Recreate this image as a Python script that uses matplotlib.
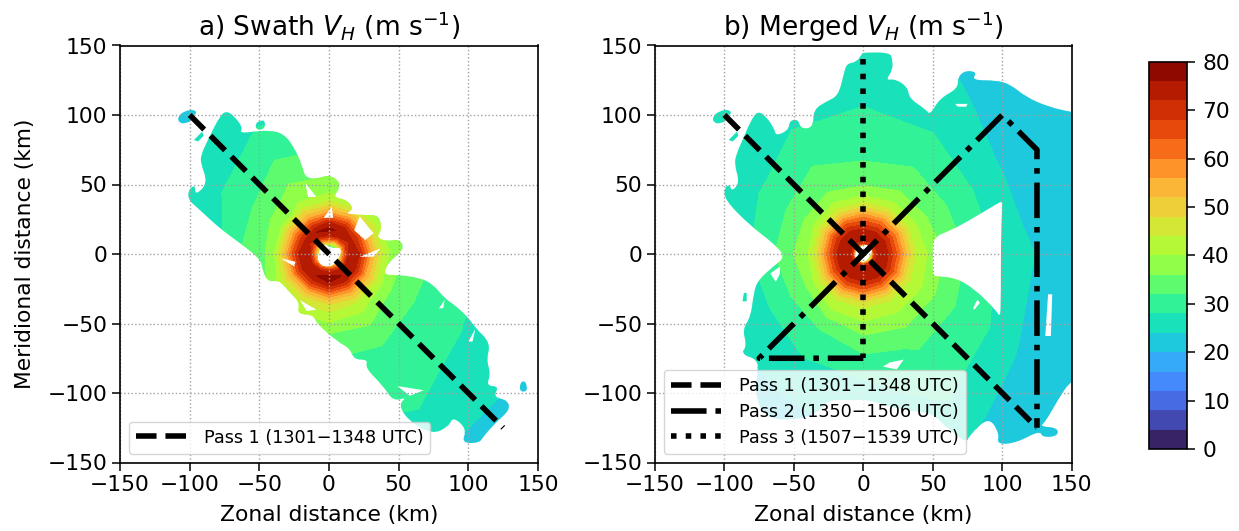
import numpy as np
import matplotlib
matplotlib.use("Agg")
import matplotlib.pyplot as plt
from matplotlib.path import Path

# ---------- data ----------
levels = np.arange(0, 81, 4)
cbar_ticks = np.arange(0, 81, 10)
ticks = [-150, -100, -50, 0, 50, 100, 150]
radius_km = [5, 8, 11, 14, 18, 22, 26, 30, 35, 40, 46, 54, 64, 76, 90, 105, 120, 135, 150, 165, 185, 215]
azimuth_deg = [0, 30, 60, 90, 120, 150, 180, 210, 240, 270, 300, 330, 360]

# wind speed, rows = azimuth, columns = radius
va_0 = [30, 48, 62, 72, 74, 72, 64, 56, 48, 42, 38.5, 36, 34, 32, 30, 28.5, 27, 26, 25, 24, 22, 20]
va_30 = [30, 46, 60, 70, 73, 70, 63, 55, 47, 42, 38, 35, 33, 31, 29, 27.5, 26, 25, 24, 23, 21.5, 20]
va_60 = [30, 46, 62, 72, 75, 72, 64, 56, 47, 42, 39, 36.5, 34, 32, 30, 28, 26.5, 25, 24, 23, 21.5, 20]
va_90 = [30, 48, 64, 74, 77, 74, 65, 56, 48, 42, 39, 36.5, 34, 32, 30, 28, 26.5, 25, 24, 23, 21.5, 20]
va_120 = [30, 48, 62, 72, 76, 71, 63, 55, 48, 41, 39, 37, 34.5, 32.3, 30, 28, 26.5, 24.5, 23, 22.5, 21, 20]
va_150 = [30, 46, 60, 70, 74, 70, 63, 55, 47, 39, 37, 34, 32, 30, 27.8, 26, 25.5, 24.5, 23, 22.5, 21, 20]
va_180 = [30, 48, 62, 73, 76, 72, 65, 56, 47, 39, 36, 34, 32, 28, 26.5, 26, 25, 24, 23, 22.5, 21, 20]
va_210 = [30, 46, 62, 72, 74, 72, 65, 56, 48, 42, 38, 35, 33, 31, 28.5, 26.5, 25, 24, 23, 22.5, 21, 20]
va_240 = [30, 48, 64, 74, 76, 72, 65, 56, 48, 44, 41, 37, 35, 33, 31, 29, 27.5, 26, 25, 24, 22, 21]
va_270 = [30, 48, 66, 75, 78, 75, 67, 58, 49, 45, 42, 37, 34, 32, 31, 30, 28.5, 27, 25.5, 24, 22, 21]
va_300 = [30, 48, 64, 74, 76, 74, 66, 58, 50, 44, 41, 37.5, 34.5, 32, 31, 30, 28.7, 27.5, 25.5, 24, 22, 20]
va_330 = [30, 48, 62, 72, 74, 72, 65, 56, 49, 43, 38, 35, 33, 31, 30, 28.5, 27, 26, 25, 24, 22, 20]
field_a = [va_0, va_30, va_60, va_90, va_120, va_150, va_180, va_210, va_240, va_270, va_300, va_330, va_0]

vb_0 = [38, 68, 74, 74, 72, 67, 61, 54, 47, 42, 40, 37.3, 34.3, 31.5, 28.7, 26.7, 24.3, 23, 22.5, 21.5, 21, 20]
vb_30 = [38, 68, 74, 74, 72, 67, 61, 54, 47, 41.5, 39, 35.5, 33, 30.7, 28.2, 25.5, 23.5, 22.8, 22, 21.5, 21, 20]
vb_60 = [38, 68, 74, 74, 72, 67, 61, 54, 47, 41.5, 38.5, 35.3, 33.2, 31.4, 29.2, 27.5, 26, 24.4, 23.5, 22.5, 21.5, 21]
vb_90 = [38, 68, 74, 75, 72, 67, 61, 54, 46, 41.5, 37, 34.5, 32.5, 30.5, 29.5, 28.1, 27, 26.5, 26, 25.5, 25, 24.5]
vb_120 = [38, 68, 75, 76, 73, 68, 62, 54, 46, 41.5, 38, 35, 33.5, 31.5, 29.5, 27.8, 26.7, 26, 25.5, 25, 24.5, 24]
vb_150 = [38, 68, 75, 76, 73, 68, 62, 54, 46, 40.8, 37, 34.5, 32, 29.7, 27.5, 26.5, 25.5, 24.7, 23.7, 23, 22.5, 22]
vb_180 = [38, 70, 75, 76, 74, 68, 61, 53, 45, 40, 37.5, 34.8, 32, 28.8, 26.8, 26, 25, 23.8, 23, 22.5, 22, 21]
vb_210 = [38, 70, 75, 76, 74, 68, 62, 54, 46, 41, 36.5, 33.8, 31, 28.3, 26, 24.6, 23.5, 23, 22.5, 22, 21.5, 21]
vb_240 = [38, 70, 75, 76, 74, 69, 63, 55, 47, 42, 40, 35.2, 31.6, 29.6, 27.4, 25.3, 23.7, 23, 22.5, 22, 21.5, 21]
vb_270 = [38, 70, 76, 76, 74, 69, 63, 55, 47, 43, 41, 37.5, 34, 31, 28, 26.8, 25.5, 24.3, 23.5, 23, 22, 21]
vb_300 = [38, 70, 75, 76, 74, 69, 62, 55, 47, 43, 41, 38, 35, 32.3, 31, 29.5, 28.3, 26.5, 24.3, 23, 21.5, 20]
vb_330 = [38, 68, 74, 75, 73, 68, 62, 55, 47, 43, 41, 37.5, 34.7, 32, 29.5, 28, 24.8, 23.5, 23, 22.5, 20.8, 20]
field_b = [vb_0, vb_30, vb_60, vb_90, vb_120, vb_150, vb_180, vb_210, vb_240, vb_270, vb_300, vb_330, vb_0]

# data coverage outlines (km)
cover_a = [(-92,71),(-87,82),(-78,100),(-73,103),(-67,98),(-62,91),(-64,87),(-54,88),(-44,89),(-33,87),
           (-25,77),(-19,63),(-17,55),(-9,54),(0,57),(8,52),(7,46),(3,41),(13,39),(18,32),(11,29),(26,28),
           (36,28),(38,17),(34,12),(42,9),(50,11),(54,5),(49,-1),(42,-7),(39,-15),(49,-15),(65,-17),(75,-22),
           (83,-32),(92,-38),(101,-47),(105,-53),(116,-64),(113,-76),(116,-86),(113,-95),(122,-95),(118,-103),
           (128,-105),(130,-112),(120,-121),(111,-131),(108,-136),(95,-136),(99,-126),(89,-117),(86,-124),
           (74,-130),(56,-119),(50,-108),(56,-103),(46,-106),(39,-95),(26,-82),(28,-76),(18,-76),(15,-68),
           (6,-63),(-9,-50),(-11,-44),(-23,-43),(-21,-35),(-28,-28),(-33,-22),(-37,-19),(-44,-20),(-48,-11),
           (-49,-4),(-64,8),(-78,18),(-93,32),(-101,39),(-101,46),(-96,50),(-96,42),(-87,51),(-92,65)]
blobs_a = [[(-109,98),(-104,103),(-96,104),(-95,100),(-101,100),(-98,96),(-103,94),(-107,94)],
           [(-97,82),(-91,88),(-90,85),(-94,81)],
           [(-53,94),(-49,96),(-46,96),(-46,90),(-52,89)],
           [(137,-93),(140,-91),(142,-94),(142,-99),(137,-99)]]
holes_a = [[(-9,-2),(-4,8),(2,4),(9,5),(8,-2),(3,-9),(-6,-9)],
           [(-17,51),(-9,41),(-15,41)],
           [(-4,26),(2,34),(3,26)],
           [(18,17),(22,27),(32,15),(26,10)],
           [(22,-2),(37,4),(32,-2)],
           [(-35,-3),(-24,-5.5),(-25,-9)],
           [(-21,-33),(-9,-40),(-16,-41)],
           [(49,-95),(68,-98),(58,-102)],
           [(79,-39),(83,-33),(82,-39)],
           [(100,-63),(105,-54),(103,-63)]]

cover_b = [(-100,39),(-100,48),(-96,50),(-95,45),(-89,51),(-93,65),(-91,73),(-87,82),(-81,96),(-76,103),
           (-70,99),(-64,90),(-63,85),(-54,89),(-53,96),(-47,97),(-45,90),(-36,91),(-36,104),(-26,110),
           (-18,114),(-14,130),(-12,137),(-5,138),(-1,144),(0,145),(19,145),(21,140),(21,132),(16,125),(23,126),(32,120),
           (33,112),(45,104),(48,100),(55,112),(68,119),(68,127),(73,132),(82,131),(78,125),(96,125),
           (106,122),(117,113),(133,106),(150,102),(165,100),(165,-88),(150,-90),(140,-105),(131,-121),(127,-124),
           (140,-125),(140,-131),(129,-132),(127,-127),(110,-136),(96,-137),(98,-129),(90,-117),(76,-131),
           (74,-136),(59,-124),(49,-114),(25,-112),(5,-105),(-10,-105),(-25,-105),(-30,-112),(-44,-119),
           (-71,-119),(-78,-100),(-76,-86),(-76,-76),(-88,-72),(-84,-66),(-87,-54),(-81,-45),(-79,-28),
           (-76,-19),(-65,-9),(-56,-2),(-65,8),(-81,20)]
blobs_b = [[(-109,98),(-104,103),(-96,104),(-95,100),(-101,100),(-98,96),(-103,94),(-107,94)],
           [(-97,82),(-91,88),(-90,85),(-94,81)],
           [(-86,-28),(-84,-28),(-84,-34),(-87,-34)]]
holes_b = [[(-7,0),(0,8),(7,4),(5,-2),(0,-7),(-6,-3)],
           [(50,12),(63,17),(76,24),(96,36),(100,38),(100,34),(99,10),(99,-40),(98,-45),(96,-41),(80,-25),(66,-17),(52,-16),(50,-15),(50,-2)],
           [(-67,-14),(-60,-9),(-60,-14),(-63,-20)],
           [(133,-29),(136,-29),(135,-59),(131,-59)],
           [(66,108),(75,108),(74,106),(68,106)],
           [(79,-39),(82,-33),(84,-35),(80,-40)],
           [(19,-78),(29,-76),(24,-83),(14,-81)]]

# flight tracks (km)
pass1_x = [-100, 125]
pass1_y = [100, -125]
pass2_x = [0, -75, 100, 125, 125]
pass2_y = [-75, -75, 100, 75, -125]
pass3_x = [0, 0]
pass3_y = [140, -75]

pass1_label = "Pass 1 (1301\u22121348 UTC)"
pass2_label = "Pass 2 (1350\u22121506 UTC)"
pass3_label = "Pass 3 (1507\u22121539 UTC)"
title_a = r"a) Swath $V_H$ (m s$^{-1}$)"
title_b = r"b) Merged $V_H$ (m s$^{-1}$)"
xlabel = "Zonal distance (km)"
ylabel = "Meridional distance (km)"

# ---------- drawing ----------
W, H = 1239, 531
plt.rcParams.update({"font.family": "DejaVu Sans", "axes.linewidth": 1.2,
                     "xtick.major.width": 1.1, "ytick.major.width": 1.1,
                     "xtick.major.size": 6, "ytick.major.size": 6})
fig = plt.figure(figsize=(W / 100, H / 100), dpi=100)


def add_axes(x0, x1, y_top, y_bot):
    return fig.add_axes([x0 / W, 1 - y_bot / H, (x1 - x0) / W, (y_bot - y_top) / H])


def signed_area(pts):
    p = np.array(pts, float)
    return 0.5 * np.sum(p[:, 0] * np.roll(p[:, 1], -1) - np.roll(p[:, 0], -1) * p[:, 1])


def ring_path(ring):
    """Rounded outline: vertices act as control points, edge midpoints as anchors."""
    n = len(ring)
    if n < 5:
        return list(ring) + [ring[0]], [Path.MOVETO] + [Path.LINETO] * (n - 1) + [Path.CLOSEPOLY]
    p = np.array(ring, float)
    mid = 0.5 * (p + np.roll(p, -1, axis=0))
    verts, codes = [tuple(mid[-1])], [Path.MOVETO]
    for i in range(n):
        verts += [tuple(p[i]), tuple(mid[i])]
        codes += [Path.CURVE3, Path.CURVE3]
    verts.append(tuple(mid[-1]))
    codes.append(Path.CLOSEPOLY)
    return verts, codes


def coverage_path(outer, blobs, holes):
    verts, codes = [], []
    rings = [(r, True) for r in [outer] + blobs] + [(r, False) for r in holes]
    for ring, ccw in rings:
        ring = list(ring)
        if (signed_area(ring) > 0) != ccw:
            ring = ring[::-1]
        v, c = ring_path(ring)
        verts += v
        codes += c
    return Path(verts, codes)


def panel(ax, field, outer, blobs, holes, title):
    r, az = np.meshgrid(radius_km, np.deg2rad(azimuth_deg))
    X = r * np.cos(az)
    Y = r * np.sin(az)
    cs = ax.contourf(X, Y, np.array(field), levels=levels, cmap="turbo", zorder=1)
    cs.set_clip_path(coverage_path(outer, blobs, holes), ax.transData)
    ax.set_xlim(-150, 150)
    ax.set_ylim(-150, 150)
    ax.set_xticks(ticks)
    ax.set_yticks(ticks)
    ax.tick_params(labelsize=15.7, pad=3)
    ax.grid(True, linestyle=":", color="#a0a0a0", linewidth=1.0, zorder=1.5)
    ax.set_title(title, fontsize=19, pad=7)
    ax.set_xlabel(xlabel, fontsize=15.7, labelpad=7)
    return cs


ax_a = add_axes(120, 538, 45.5, 462.5)
ax_b = add_axes(655, 1071.7, 45.5, 462.5)

cs = panel(ax_a, field_a, cover_a, blobs_a, holes_a, title_a)
panel(ax_b, field_b, cover_b, blobs_b, holes_b, title_b)
ax_a.set_ylabel(ylabel, fontsize=15.7, labelpad=9)

lw = 4
ax_a.plot(pass1_x, pass1_y, color="k", lw=lw, ls="--", label=pass1_label, zorder=3)
ax_b.plot(pass1_x, pass1_y, color="k", lw=lw, ls="--", label=pass1_label, zorder=3)
ax_b.plot(pass2_x, pass2_y, color="k", lw=lw, ls="-.", label=pass2_label, zorder=3)
ax_b.plot(pass3_x, pass3_y, color="k", lw=lw, ls=":", label=pass3_label, zorder=3)
for ax in (ax_a, ax_b):
    ax.legend(loc="lower left", fontsize=12.7, handlelength=2.85, handletextpad=1.0,
              labelspacing=0.45, borderpad=0.4, framealpha=0.8)

cax = add_axes(1149, 1187, 61.7, 449)
cb = fig.colorbar(cs, cax=cax, ticks=cbar_ticks)
cb.ax.tick_params(labelsize=15.7, length=6, pad=5)
cb.outline.set_linewidth(1.2)

fig.savefig("out.png", dpi=100)
